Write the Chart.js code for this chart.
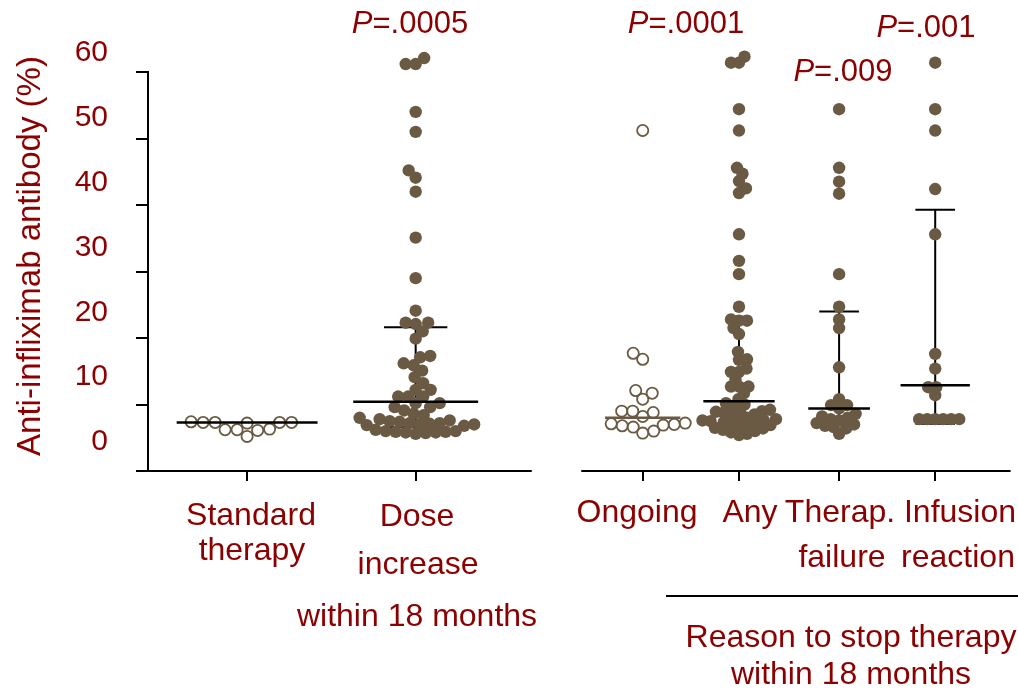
<!DOCTYPE html>
<html>
<head>
<meta charset="utf-8">
<script src="https://cdn.jsdelivr.net/npm/chart.js@4.4.1/dist/chart.umd.min.js"></script>
<style>
  html, body { margin: 0; padding: 0; background: #ffffff; }
  canvas { display: block; }
</style>
</head>
<body>
<canvas id="chart" width="1018" height="689"></canvas>
<script>
// ================= DATA =================
const categories = [
  ['Standard', 'therapy'],
  ['Dose', 'increase', 'within 18 months'],
  ['Ongoing'],
  ['Any'],
  ['Therap.', 'failure'],
  ['Infusion', 'reaction']
];
const groupTitle = ['Reason to stop therapy', 'within 18 months'];
const yAxisTitle = 'Anti-infliximab antibody (%)';
const yTicks = [0, 10, 20, 30, 40, 50, 60];

const standardTherapy = [7.4, 7.3, 7.3, 7.3, 7.3, 7.2, 6.3, 6.2, 6.2, 6.1, 5.2];
const doseIncrease = [62.1, 61.2, 61.2, 54.0, 51.0, 45.2, 44.1, 42.0, 35.1, 29.0, 24.1,
  22.3, 22.3, 22.1, 21.0, 19.9, 17.3, 17.1, 16.2, 15.9, 15.1, 14.1, 13.2, 12.2, 12.2,
  11.2, 11.2, 11.2, 10.2, 10.2, 9.6, 9.6, 9.1, 8.6, 8.4, 8.0, 7.8, 7.6, 7.5, 7.4, 7.2,
  7.2, 7.1, 7.0, 7.0, 6.9, 6.8, 6.2, 6.0, 6.0, 5.9, 5.9, 5.8, 5.8, 5.7, 5.6];
const ongoing = [51.2, 17.7, 16.8, 12.1, 11.7, 10.8, 9.0, 9.0, 8.8, 8.2, 7.2, 7.1, 7.0,
  6.9, 6.8, 6.6, 6.0, 5.7];
const anyReason = [62.3, 61.4, 61.4, 54.4, 51.2, 45.6, 44.7, 43.6, 42.5, 41.8, 35.6, 31.6,
  29.6, 24.7, 22.8, 22.6, 22.6, 21.5, 20.6, 17.9, 16.8, 16.7, 15.4, 14.9, 14.9, 13.8,
  12.7, 12.7, 12.7, 11.7, 10.8, 10.2, 10.0, 9.6, 9.2, 9.0, 9.0, 8.9, 8.8, 8.5, 8.2, 8.0,
  7.8, 7.8, 7.7, 7.6, 7.5, 7.4, 7.2, 7.0, 6.9, 6.8, 6.6, 6.5, 6.4, 6.2, 6.0, 5.8, 5.6, 5.4];
const therapFailure = [54.4, 45.6, 43.5, 41.7, 29.6, 24.7, 22.8, 21.5, 15.6, 10.8, 9.9, 9.9,
  9.4, 8.6, 8.2, 8.0, 7.8, 7.6, 7.2, 7.0, 6.8, 6.6, 6.4, 5.6];
const infusionReaction = [61.4, 54.4, 51.2, 42.4, 35.6, 17.6, 15.4, 12.6, 12.6, 11.4,
  7.8, 7.8, 7.8, 7.8, 7.8, 7.8];

const medians = [7.3, 10.4, 8.0, 10.5, 9.4, 12.9];
const lowerQuartiles = [null, 6.6, null, 7.0, 7.2, 7.1];
const upperQuartiles = [null, 21.6, null, 23.2, 24.0, 39.3];
const pValues = [null, '=.0005', null, '=.0001', '=.009', '=.001'];

const seriesValues = [standardTherapy, doseIncrease, ongoing, anyReason, therapFailure, infusionReaction];
const openMarker = [true, false, true, false, false, false];

// ================= LAYOUT / STYLE =================
const DOT = '#6a5a44';
const RED = '#8b0000';
const FONT = "'Liberation Sans', Arial, Helvetica, sans-serif";
const X_MAX = 5.1786;
const Y_MAX_AREA = 65;               // plot area extends above the 60 tick
const LABEL_RANGE = [-4.47, 62.2];   // range of the label-only axis (labels sit above their ticks)
const catPos = [0.595, 1.607, 2.970, 3.548, 4.149, 4.726];
const axisSegments = [[0, 2.304], [2.607, X_MAX]];
const medianHalf = [0.423, 0.375, 0.226, 0.214, 0.185, 0.208];
const capHalf = [0, 0.19, 0, 0.071, 0.119, 0.119];
const medianColor = ['#000', '#000', DOT, '#000', '#000', '#000'];
const swarmGap = [12, 10, 11, 8, 8.5, 8];

const catLabelPos = [
  [[251, 525], [252, 560]],
  [[417, 526], [418, 574], [417, 626]],
  [[637, 522]],
  [[750, 522]],
  [[840, 522], [842, 567]],
  [[960, 522], [958, 567]]
];
const pPos = [null, [410, 33], null, [686, 33], [843, 81], [926, 37]];
const bracket = { y: 596, x1: 666, x2: 1018 };
const groupTitlePos = [[851, 647], [851, 684]];
const yTitlePos = { x: 40, y: 256 };

// ================= DATASETS =================
const datasets = [];
seriesValues.forEach((vals, g) => {
  datasets.push({
    type: 'scatter',
    swarmGroup: g,
    data: vals.map(v => ({ x: catPos[g], y: v })),
    pointStyle: 'circle',
    pointRadius: openMarker[g] ? 5.6 : 6.2,
    pointHoverRadius: openMarker[g] ? 5.6 : 6.2,
    pointBackgroundColor: openMarker[g] ? 'rgba(0,0,0,0)' : DOT,
    pointBorderColor: DOT,
    pointBorderWidth: openMarker[g] ? 1.8 : 0,
    clip: false,
    order: 1
  });
  const c = catPos[g];
  datasets.push({
    type: 'line',
    data: [{ x: c - medianHalf[g], y: medians[g] }, { x: c + medianHalf[g], y: medians[g] }],
    borderColor: medianColor[g],
    borderWidth: 2.5,
    pointRadius: 0,
    fill: false,
    clip: false,
    order: 0
  });
  if (upperQuartiles[g] !== null) {
    const ch = capHalf[g];
    datasets.push({
      type: 'line',
      data: [
        { x: c, y: lowerQuartiles[g] }, { x: c, y: upperQuartiles[g] }, { x: c, y: null },
        { x: c - ch, y: upperQuartiles[g] }, { x: c + ch, y: upperQuartiles[g] }, { x: c, y: null },
        { x: c - ch, y: lowerQuartiles[g] }, { x: c + ch, y: lowerQuartiles[g] }
      ],
      borderColor: '#000',
      borderWidth: 2,
      pointRadius: 0,
      fill: false,
      spanGaps: false,
      clip: false,
      order: 2
    });
  }
});

// ================= PLUGIN: axis lines + texts =================
const decorations = {
  id: 'decorations',
  afterDraw(chart) {
    const ctx = chart.ctx;
    const xs = chart.scales.x, ys = chart.scales.y;
    const area = chart.chartArea;
    ctx.save();
    ctx.strokeStyle = '#000';
    ctx.lineWidth = 2;
    // y axis line (0..60)
    ctx.beginPath();
    ctx.moveTo(area.left, ys.getPixelForValue(yTicks[yTicks.length - 1]) - 1);
    ctx.lineTo(area.left, ys.getPixelForValue(yTicks[0]) + 1);
    ctx.stroke();
    // x axis segments
    axisSegments.forEach(([a, b]) => {
      ctx.beginPath();
      ctx.moveTo(xs.getPixelForValue(a) - 1, area.bottom);
      ctx.lineTo(xs.getPixelForValue(b), area.bottom);
      ctx.stroke();
    });
    // bracket line
    ctx.beginPath();
    ctx.moveTo(bracket.x1, bracket.y);
    ctx.lineTo(bracket.x2, bracket.y);
    ctx.stroke();

    ctx.fillStyle = RED;
    ctx.textBaseline = 'alphabetic';
    ctx.textAlign = 'center';
    ctx.font = '32px ' + FONT;
    categories.forEach((lines, g) => {
      lines.forEach((t, k) => {
        const p = catLabelPos[g][k];
        ctx.fillText(t, p[0], p[1]);
      });
    });
    groupTitle.forEach((t, k) => ctx.fillText(t, groupTitlePos[k][0], groupTitlePos[k][1]));
    pValues.forEach((t, g) => {
      if (!t) return;
      const p = pPos[g];
      ctx.font = 'italic 31px ' + FONT;
      const wP = ctx.measureText('P').width;
      ctx.font = '31px ' + FONT;
      const wR = ctx.measureText(t).width;
      const x0 = p[0] - (wP + wR) / 2;
      ctx.textAlign = 'left';
      ctx.font = 'italic 31px ' + FONT;
      ctx.fillText('P', x0, p[1]);
      ctx.font = '31px ' + FONT;
      ctx.fillText(t, x0 + wP, p[1]);
      ctx.textAlign = 'center';
    });
    ctx.translate(yTitlePos.x, yTitlePos.y);
    ctx.rotate(-Math.PI / 2);
    ctx.font = '33px ' + FONT;
    ctx.textAlign = 'center';
    ctx.fillText(yAxisTitle, 0, 0);
    ctx.restore();
  }
};

// ================= CHART =================
const chart = new Chart(document.getElementById('chart'), {
  type: 'scatter',
  data: { datasets },
  options: {
    responsive: false,
    animation: false,
    devicePixelRatio: 1,
    layout: { padding: { top: 38.75, right: 0, left: 0, bottom: 0 } },
    plugins: { legend: { display: false }, tooltip: { enabled: false } },
    scales: {
      x: {
        type: 'linear',
        min: 0,
        max: X_MAX,
        border: { display: false },
        grid: { drawOnChartArea: false, drawTicks: true, tickLength: 10, color: '#000', lineWidth: 2 },
        ticks: { display: false },
        afterBuildTicks: s => { s.ticks = catPos.map(v => ({ value: v })); },
        afterFit: s => { s.height = 218; }
      },
      y: {
        type: 'linear',
        position: 'left',
        weight: 0,
        min: 0,
        max: Y_MAX_AREA,
        border: { display: false },
        grid: { drawOnChartArea: false, drawTicks: true, tickLength: 12, color: '#000', lineWidth: 2 },
        afterBuildTicks: s => { s.ticks = yTicks.map(v => ({ value: v })); },
        ticks: { display: false },
        afterFit: s => { s.width = 40; }
      },
      yLabels: {
        type: 'linear',
        position: 'left',
        weight: 1,
        min: LABEL_RANGE[0],
        max: LABEL_RANGE[1],
        border: { display: false },
        grid: { display: false, drawTicks: false },
        afterBuildTicks: s => { s.ticks = yTicks.map(v => ({ value: v })); },
        ticks: {
          color: RED,
          font: { size: 30, family: FONT },
          padding: 0
        },
        afterFit: s => { s.width = 108; }
      }
    }
  },
  plugins: [decorations]
});

// ================= SWARM (beeswarm offsets via the chart's scales) =================
(function layoutSwarm() {
  const xs = chart.scales.x, ys = chart.scales.y;
  chart.data.datasets.forEach(ds => {
    if (ds.swarmGroup === undefined) return;
    const g = ds.swarmGroup;
    const vals = seriesValues[g];
    const cx = xs.getPixelForValue(catPos[g]);
    const d = swarmGap[g];
    const idx = vals.map((v, i) => i).sort((a, b) => vals[a] - vals[b]);
    const placed = [];
    const out = new Array(vals.length);
    idx.forEach((i, n) => {
      const py = ys.getPixelForValue(vals[i]);
      let off = 0;
      for (let k = 0; k < 600; k++) {
        const mag = Math.ceil(k / 2) * 0.5;
        const sgn = (k % 2 === 1) ? (n % 2 ? 1 : -1) : (n % 2 ? -1 : 1);
        const o = mag * sgn;
        if (placed.every(p => Math.hypot(p.x - (cx + o), p.y - py) >= d)) { off = o; break; }
      }
      placed.push({ x: cx + off, y: py });
      out[i] = { x: xs.getValueForPixel(cx + off), y: vals[i] };
    });
    ds.data = out;
  });
  chart.update('none');
})();
</script>
</body>
</html>
